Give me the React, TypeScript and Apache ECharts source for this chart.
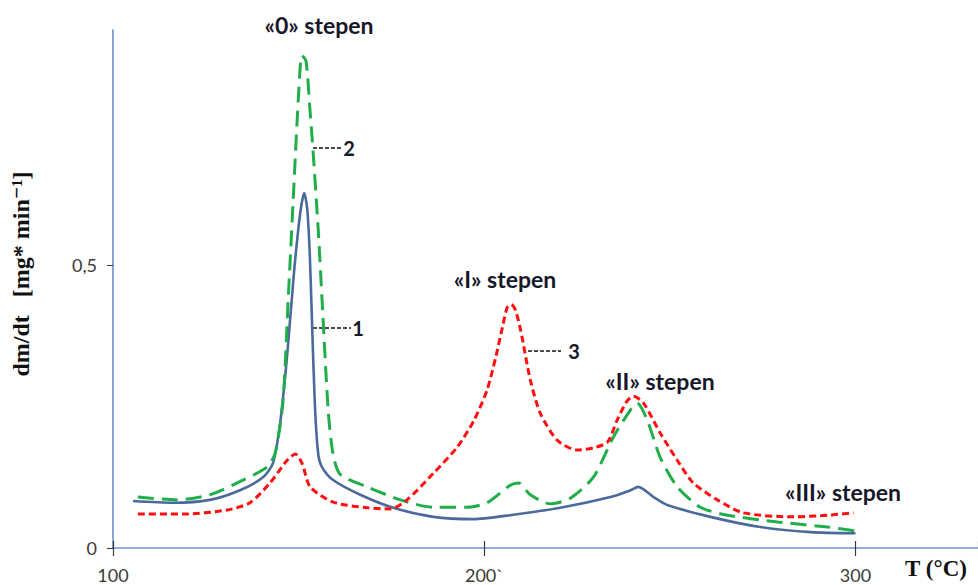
import React, { useEffect, useRef } from 'react';
import * as echarts from 'echarts';

// Curve 1 (solid blue)
const blueTemp = [105.4, 116.2, 126.1, 134.2, 140.4, 143.1, 145.0, 146.9, 148.8, 150.4, 151.5, 152.3, 153.0, 153.6, 154.4, 155.3, 156.3, 159.3, 166.6, 175.5, 186.3, 197.0, 207.0, 220.5, 234.0, 239.4, 241.5, 245.6, 249.3, 260.9, 274.4, 287.9, 300.0];
const blueRate = [0.083, 0.080, 0.085, 0.102, 0.125, 0.150, 0.22, 0.34, 0.49, 0.59, 0.627, 0.60, 0.52, 0.40, 0.25, 0.165, 0.143, 0.12, 0.094, 0.071, 0.055, 0.051, 0.058, 0.071, 0.09, 0.102, 0.108, 0.09, 0.076, 0.055, 0.037, 0.028, 0.026];

// Curve 2 (green long dashes)
const greenTemp = [106.7, 117.3, 126.1, 135.0, 141.5, 143.7, 145.8, 147.2, 148.5, 149.9, 150.9, 152.0, 153.1, 153.9, 155.3, 156.3, 158.0, 159.3, 161.2, 168.5, 177.4, 186.3, 195.4, 200.8, 207.0, 209.2, 212.4, 217.8, 223.2, 229.4, 234.8, 239.4, 241.2, 243.9, 247.4, 252.0, 258.2, 265.5, 279.0, 292.5, 300.0];
const greenRate = [0.09, 0.085, 0.094, 0.12, 0.143, 0.168, 0.26, 0.44, 0.61, 0.79, 0.87, 0.86, 0.77, 0.70, 0.56, 0.44, 0.24, 0.165, 0.13, 0.108, 0.085, 0.072, 0.072, 0.08, 0.111, 0.115, 0.094, 0.078, 0.088, 0.125, 0.196, 0.244, 0.256, 0.226, 0.16, 0.108, 0.072, 0.058, 0.046, 0.037, 0.03];

// Curve 3 (red short dashes)
const redTemp = [106.7, 118.9, 130.7, 136.9, 142.3, 146.9, 149.1, 150.9, 153.1, 159.3, 168.5, 174.7, 179.2, 186.3, 192.7, 197.2, 200.8, 203.2, 204.9, 206.2, 207.3, 208.4, 209.8, 212.4, 215.1, 219.7, 225.1, 229.4, 233.2, 235.8, 238.5, 240.2, 242.9, 247.4, 252.0, 256.3, 262.8, 269.8, 283.3, 292.5, 299.5];
const redRate = [0.06, 0.06, 0.067, 0.08, 0.115, 0.155, 0.166, 0.15, 0.108, 0.081, 0.071, 0.069, 0.085, 0.132, 0.178, 0.225, 0.28, 0.34, 0.39, 0.425, 0.43, 0.42, 0.385, 0.297, 0.238, 0.19, 0.173, 0.177, 0.187, 0.226, 0.26, 0.268, 0.256, 0.203, 0.155, 0.115, 0.085, 0.062, 0.055, 0.058, 0.062];

const xTicks = [100, 200, 300];
const xTickLabels = ['100', '200`', '300'];
const yTicks = [0, 0.5];
const yTickLabels = ['0', '0,5'];

const stageLabels = ['«0» stepen', '«I» stepen', '«II» stepen', '«III» stepen'];
const curveNumbers = ['1', '2', '3'];

const pairs = (t: number[], v: number[]) => t.map((x, i) => [x, v[i]]);

const labelFont = 'Lato, "Open Sans", sans-serif';

export default function App() {
  const ref = useRef<HTMLDivElement>(null);
  useEffect(() => {
    document.body.style.margin = '0';
    const chart = echarts.init(ref.current!, null, { renderer: 'svg' });
    const annText = (text: string, x: number, y: number, size = 23) => ({
      type: 'text',
      x,
      y,
      style: {
        text,
        fill: '#17172a',
        fontSize: size,
        fontWeight: 'bold',
        fontFamily: labelFont,
        align: 'center',
        verticalAlign: 'middle',
      },
    });
    const leader = (x1: number, x2: number, y: number) => ({
      type: 'line',
      shape: { x1, y1: y, x2, y2: y },
      style: { stroke: '#111', lineWidth: 1.4, lineDash: [4, 2] },
    });
    const option: any = {
      animation: false,
      grid: { left: 113, right: 0, top: 30, bottom: 37 },
      xAxis: [
        {
          type: 'value',
          min: 100,
          max: 333,
          interval: 100,
          axisLine: { show: true, lineStyle: { color: '#6f93cc', width: 1.5 } },
          axisTick: { show: true, length: 8, lineStyle: { color: '#3a3a3a', width: 1.2 } },
          splitLine: { show: false },
          axisLabel: {
            showMaxLabel: false,
            margin: 18,
            color: '#3a3a3a',
            fontSize: 18,
            fontFamily: labelFont,
            formatter: (v: number) => {
              const i = xTicks.indexOf(v);
              return i >= 0 ? xTickLabels[i] : '';
            },
          },
        },
        {
          type: 'value',
          min: 100,
          max: 333,
          interval: 100,
          position: 'bottom',
          axisLine: { show: false },
          axisTick: { show: true, inside: true, length: 7, lineStyle: { color: '#3a3a3a', width: 1.2 } },
          axisLabel: { show: false },
          splitLine: { show: false },
        },
      ],
      yAxis: {
        type: 'value',
        min: 0,
        max: 0.915,
        interval: 0.5,
        name: 'dm/dt   [mg* min⁻¹]',
        nameLocation: 'middle',
        nameGap: 80,
        nameTextStyle: {
          fontFamily: '"Liberation Serif", "DejaVu Serif", serif',
          fontWeight: 'bold',
          fontSize: 24,
          color: '#111',
          padding: [0, 0, 0, 30],
        },
        axisLine: { show: true, lineStyle: { color: '#5b86c9', width: 1.5 } },
        axisTick: { show: true, length: 6, lineStyle: { color: '#3a3a3a' } },
        splitLine: { show: false },
        axisLabel: {
          showMaxLabel: false,
          margin: 16,
          color: '#3a3a3a',
          fontSize: 18,
          fontFamily: labelFont,
          formatter: (v: number) => {
            const i = yTicks.indexOf(v);
            return i >= 0 ? yTickLabels[i] : '';
          },
        },
      },
      series: [
        {
          name: '1',
          type: 'line',
          data: pairs(blueTemp, blueRate),
          showSymbol: false,
          smooth: 0.25,
          lineStyle: { color: '#4a6a9b', width: 2.6 },
        },
        {
          name: '2',
          type: 'line',
          data: pairs(greenTemp, greenRate),
          showSymbol: false,
          smooth: 0.25,
          lineStyle: { color: '#1fae4a', width: 3, type: [16, 8] },
        },
        {
          name: '3',
          type: 'line',
          data: pairs(redTemp, redRate),
          showSymbol: false,
          smooth: 0.25,
          lineStyle: { color: '#ff1010', width: 3, type: [7, 4] },
        },
      ],
      graphic: [
        annText(stageLabels[0], 319, 25),
        annText(stageLabels[1], 505, 279),
        annText(stageLabels[2], 660, 381),
        annText(stageLabels[3], 843, 492),
        leader(313, 342, 148),
        annText(curveNumbers[1], 349, 148, 20),
        leader(313, 351, 328),
        annText(curveNumbers[0], 358, 328, 20),
        leader(528, 561, 351),
        annText(curveNumbers[2], 574, 351, 20),
        {
          type: 'text',
          x: 936,
          y: 568,
          style: {
            text: 'T (°C)',
            fill: '#111',
            fontSize: 23,
            fontWeight: 'bold',
            fontFamily: '"Liberation Serif", serif',
            align: 'center',
            verticalAlign: 'middle',
          },
        },
      ],
    };
    chart.setOption(option);
    return () => chart.dispose();
  }, []);
  return <div ref={ref} style={{ width: 978, height: 585 }} />;
}
